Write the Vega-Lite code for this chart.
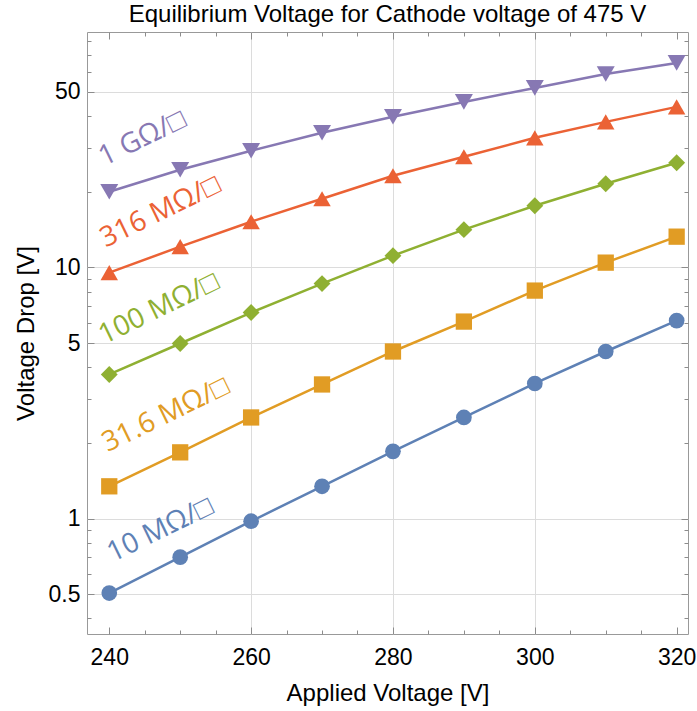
{
  "$schema": "https://vega.github.io/schema/vega-lite/v6.json",
  "width": 601,
  "height": 602,
  "autosize": {"type": "none"},
  "padding": {"left": 87, "top": 32, "right": 9, "bottom": 77},
  "background": "white",
  "title": {
    "text": "Equilibrium Voltage for Cathode voltage of 475 V",
    "font": "Liberation Sans",
    "fontSize": 24,
    "fontWeight": "normal",
    "color": "black",
    "anchor": "middle",
    "offset": 5
  },
  "config": {
    "view": {"stroke": "#999999", "strokeWidth": 1},
    "axis": {
      "labelFont": "Liberation Sans",
      "labelFontSize": 23,
      "labelColor": "black",
      "titleFont": "Liberation Sans",
      "titleFontSize": 24,
      "titleFontWeight": "normal",
      "titleColor": "black",
      "domain": false,
      "tickColor": "#8c8c8c",
      "tickWidth": 1,
      "gridColor": "#dcdcdc",
      "gridWidth": 1
    }
  },
  "datasets": {
    "pts": [
      {"v": 240, "d": 0.505, "s": "10 MΩ"},
      {"v": 250, "d": 0.702, "s": "10 MΩ"},
      {"v": 260, "d": 0.976, "s": "10 MΩ"},
      {"v": 270, "d": 1.344, "s": "10 MΩ"},
      {"v": 280, "d": 1.852, "s": "10 MΩ"},
      {"v": 290, "d": 2.527, "s": "10 MΩ"},
      {"v": 300, "d": 3.451, "s": "10 MΩ"},
      {"v": 310, "d": 4.627, "s": "10 MΩ"},
      {"v": 320, "d": 6.143, "s": "10 MΩ"},
      {"v": 240, "d": 1.344, "s": "31.6 MΩ"},
      {"v": 250, "d": 1.835, "s": "31.6 MΩ"},
      {"v": 260, "d": 2.527, "s": "31.6 MΩ"},
      {"v": 270, "d": 3.42, "s": "31.6 MΩ"},
      {"v": 280, "d": 4.627, "s": "31.6 MΩ"},
      {"v": 290, "d": 6.087, "s": "31.6 MΩ"},
      {"v": 300, "d": 8.087, "s": "31.6 MΩ"},
      {"v": 310, "d": 10.45, "s": "31.6 MΩ"},
      {"v": 320, "d": 13.26, "s": "31.6 MΩ"},
      {"v": 240, "d": 3.748, "s": "100 MΩ"},
      {"v": 250, "d": 4.978, "s": "100 MΩ"},
      {"v": 260, "d": 6.612, "s": "100 MΩ"},
      {"v": 270, "d": 8.621, "s": "100 MΩ"},
      {"v": 280, "d": 11.14, "s": "100 MΩ"},
      {"v": 290, "d": 14.14, "s": "100 MΩ"},
      {"v": 300, "d": 17.61, "s": "100 MΩ"},
      {"v": 310, "d": 21.54, "s": "100 MΩ"},
      {"v": 320, "d": 26.11, "s": "100 MΩ"},
      {"v": 240, "d": 9.535, "s": "316 MΩ"},
      {"v": 250, "d": 12.1, "s": "316 MΩ"},
      {"v": 260, "d": 15.21, "s": "316 MΩ"},
      {"v": 270, "d": 18.77, "s": "316 MΩ"},
      {"v": 280, "d": 23.17, "s": "316 MΩ"},
      {"v": 290, "d": 27.58, "s": "316 MΩ"},
      {"v": 300, "d": 32.82, "s": "316 MΩ"},
      {"v": 310, "d": 37.99, "s": "316 MΩ"},
      {"v": 320, "d": 43.59, "s": "316 MΩ"},
      {"v": 240, "d": 20.02, "s": "1 GΩ"},
      {"v": 250, "d": 24.48, "s": "1 GΩ"},
      {"v": 260, "d": 29.14, "s": "1 GΩ"},
      {"v": 270, "d": 34.36, "s": "1 GΩ"},
      {"v": 280, "d": 39.79, "s": "1 GΩ"},
      {"v": 290, "d": 45.62, "s": "1 GΩ"},
      {"v": 300, "d": 51.87, "s": "1 GΩ"},
      {"v": 310, "d": 58.96, "s": "1 GΩ"},
      {"v": 320, "d": 65.23, "s": "1 GΩ"}
    ],
    "labels": [
      {"v": 240.5, "d": 0.67, "s": "10 MΩ", "t": "10 MΩ/□"},
      {"v": 239.8, "d": 1.835, "s": "31.6 MΩ", "t": "31.6 MΩ/□"},
      {"v": 239.3, "d": 4.93, "s": "100 MΩ", "t": "100 MΩ/□"},
      {"v": 239.5, "d": 11.98, "s": "316 MΩ", "t": "316 MΩ/□"},
      {"v": 239.3, "d": 25.3, "s": "1 GΩ", "t": "1 GΩ/□"}
    ]
  },
  "layer": [
    {
      "data": {"name": "pts"},
      "mark": {"type": "line", "strokeWidth": 2.5, "clip": true},
      "encoding": {
        "x": {
          "field": "v", "type": "quantitative",
          "scale": {"domain": [236.86, 321.6], "nice": false, "zero": false},
          "axis": {
            "orient": "bottom",
            "title": "Applied Voltage [V]",
            "values": [240, 245, 250, 255, 260, 265, 270, 275, 280, 285, 290, 295, 300, 305, 310, 315, 320],
            "labelExpr": "datum.value % 20 === 0 ? datum.label : ''",
            "tickSize": {"condition": {"test": "datum.value % 20 === 0", "value": -7}, "value": -4},
            "labelPadding": 19,
            "titlePadding": 12,
            "grid": true,
            "gridOpacity": {"condition": {"test": "datum.value === 260 || datum.value === 280 || datum.value === 300", "value": 1}, "value": 0}
          }
        },
        "y": {
          "field": "d", "type": "quantitative",
          "scale": {"type": "log", "domain": [0.347, 86.6], "nice": false},
          "axis": {
            "orient": "left",
            "title": "Voltage Drop [V]",
            "values": [0.4, 0.5, 0.6, 0.7, 0.8, 0.9, 1, 2, 3, 4, 5, 6, 7, 8, 9, 10, 20, 30, 40, 50, 60, 70, 80],
            "labelExpr": "indexof([0.5, 1, 5, 10, 50], datum.value) >= 0 ? format(datum.value, '~g') : ''",
            "tickSize": {"condition": {"test": "indexof([0.5, 1, 5, 10, 50], datum.value) >= 0", "value": -7}, "value": -4},
            "labelPadding": 14,
            "titlePadding": 10,
            "grid": true,
            "gridOpacity": {"condition": {"test": "indexof([0.5, 1, 5, 10, 50], datum.value) >= 0", "value": 1}, "value": 0}
          }
        },
        "color": {
          "field": "s", "type": "nominal",
          "scale": {"domain": ["10 MΩ", "31.6 MΩ", "100 MΩ", "316 MΩ", "1 GΩ"], "range": ["#5E81B5", "#E19C24", "#8FB032", "#EB6235", "#8778B3"]},
          "legend": null
        }
      }
    },
    {
      "data": {"name": "pts"},
      "mark": {"type": "point", "filled": true, "opacity": 1},
      "encoding": {
        "x": {"field": "v", "type": "quantitative", "axis": null},
        "y": {"field": "d", "type": "quantitative", "axis": null},
        "color": {"field": "s", "type": "nominal", "legend": null},
        "shape": {
          "field": "s", "type": "nominal",
          "scale": {"domain": ["10 MΩ", "31.6 MΩ", "100 MΩ", "316 MΩ", "1 GΩ"], "range": ["circle", "square", "diamond", "triangle-up", "triangle-down"]},
          "legend": null
        },
        "size": {
          "field": "s", "type": "nominal",
          "scale": {"domain": ["10 MΩ", "31.6 MΩ", "100 MΩ", "316 MΩ", "1 GΩ"], "range": [246, 324, 400, 400, 400]},
          "legend": null
        }
      }
    },
    {
      "data": {"name": "labels"},
      "mark": {"type": "text", "align": "left", "baseline": "alphabetic", "angle": -26, "font": "Open Sans", "fontSize": 28},
      "encoding": {
        "x": {
          "field": "v", "type": "quantitative",
          "axis": {
            "orient": "top", "title": null, "labels": false, "domain": false, "grid": false,
            "values": [240, 245, 250, 255, 260, 265, 270, 275, 280, 285, 290, 295, 300, 305, 310, 315, 320],
            "tickSize": {"condition": {"test": "datum.value % 20 === 0", "value": -7}, "value": -4}
          }
        },
        "y": {
          "field": "d", "type": "quantitative",
          "axis": {
            "orient": "right", "title": null, "labels": false, "domain": false, "grid": false,
            "values": [0.4, 0.5, 0.6, 0.7, 0.8, 0.9, 1, 2, 3, 4, 5, 6, 7, 8, 9, 10, 20, 30, 40, 50, 60, 70, 80],
            "tickSize": {"condition": {"test": "indexof([0.5, 1, 5, 10, 50], datum.value) >= 0", "value": -7}, "value": -4}
          }
        },
        "text": {"field": "t", "type": "nominal"},
        "color": {"field": "s", "type": "nominal", "legend": null}
      }
    }
  ],
  "resolve": {"axis": {"x": "independent", "y": "independent"}}
}
